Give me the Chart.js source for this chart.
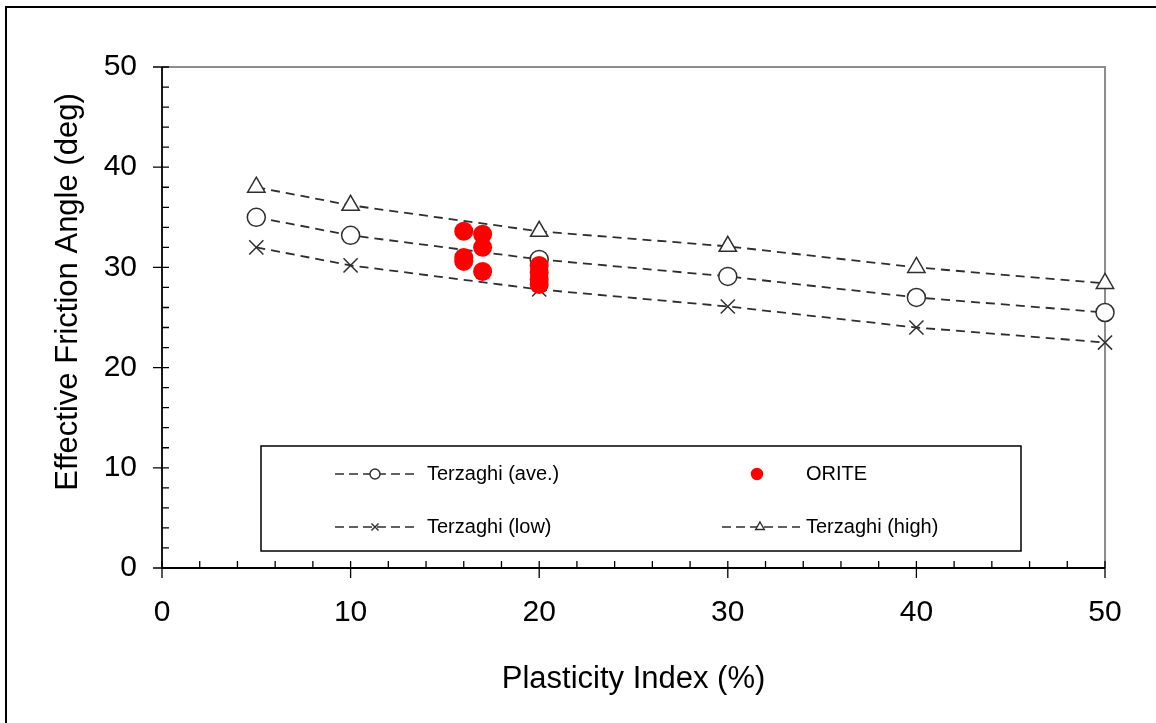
<!DOCTYPE html>
<html>
<head>
<meta charset="utf-8">
<script src="https://cdn.jsdelivr.net/npm/chart.js@4/dist/chart.umd.min.js"></script>
<style>
  html, body { margin: 0; padding: 0; background: #fff; }
  #wrap { position: relative; width: 1156px; height: 723px; }
  canvas { display: block; }
</style>
</head>
<body>
<div id="wrap"><canvas id="c" width="1156" height="723"></canvas></div>
<script>
// ---- data ----
const plasticityIndex = [5, 10, 20, 30, 40, 50];
const terzaghiAve  = [35.0, 33.2, 30.8, 29.1, 27.0, 25.5];
const terzaghiLow  = [32.0, 30.2, 27.8, 26.1, 24.0, 22.5];
const terzaghiHigh = [38.0, 36.2, 33.6, 32.1, 30.0, 28.4];
const oriteX = [16, 16, 16, 17, 17, 17, 20, 20, 20, 20];
const oriteY = [33.6, 31.0, 30.6, 33.3, 32.0, 29.6, 30.2, 29.5, 28.8, 28.3];
const xTicks = [0, 10, 20, 30, 40, 50];
const yTicks = [0, 10, 20, 30, 40, 50];
const seriesNames = ['Terzaghi (ave.)', 'ORITE', 'Terzaghi (low)', 'Terzaghi (high)'];
const xTitle = 'Plasticity Index (%)';
const yTitle = 'Effective Friction Angle (deg)';

const FONT = '"Liberation Sans", Arial, sans-serif';
const toXY = (xs, ys) => xs.map((x, i) => ({x: x, y: ys[i]}));

const lineStyle = {
  showLine: true,
  borderColor: '#2e2e2e',
  borderWidth: 1.8,
  borderDash: [9, 6],
  pointRadius: 9,
  pointHoverRadius: 9,
  pointBackgroundColor: '#ffffff',
  pointBorderColor: '#2e2e2e',
  pointBorderWidth: 1.5,
  fill: false,
  tension: 0,
  clip: false,
  order: 1
};

const datasets = [
  Object.assign({}, lineStyle, {label: seriesNames[0], data: toXY(plasticityIndex, terzaghiAve), pointStyle: 'circle'}),
  {label: seriesNames[1], data: toXY(oriteX, oriteY), showLine: false, pointStyle: 'circle', clip: false,
   pointRadius: 9.5, pointHoverRadius: 9.5, pointBackgroundColor: '#ff0000', pointBorderColor: '#ff0000',
   pointBorderWidth: 0, backgroundColor: '#ff0000', borderColor: '#ff0000', order: 0},
  Object.assign({}, lineStyle, {label: seriesNames[2], data: toXY(plasticityIndex, terzaghiLow), pointStyle: 'crossRot', pointRadius: 10, pointHoverRadius: 10}),
  Object.assign({}, lineStyle, {label: seriesNames[3], data: toXY(plasticityIndex, terzaghiHigh), pointStyle: 'triangle', pointRadius: 10, pointHoverRadius: 10})
];

// background + outer frame + y title
const framePlugin = {
  id: 'frame',
  beforeDraw(chart) {
    const ctx = chart.ctx;
    ctx.save();
    ctx.fillStyle = '#fff';
    ctx.fillRect(0, 0, chart.width, chart.height);
    ctx.strokeStyle = '#000';
    ctx.lineWidth = 2;
    ctx.beginPath();
    ctx.moveTo(6, chart.height + 2);
    ctx.lineTo(6, 7);
    ctx.lineTo(chart.width + 2, 7);
    ctx.stroke();
    // y axis title
    ctx.translate(68, 292);
    ctx.rotate(-Math.PI / 2);
    ctx.font = '31px ' + FONT;
    ctx.fillStyle = '#000';
    ctx.textAlign = 'center';
    ctx.textBaseline = 'middle';
    ctx.fillText(yTitle, 0, 0);
    ctx.restore();
  }
};

// axis lines, plot border and tick marks drawn from the scales
const axesPlugin = {
  id: 'axesTicks',
  beforeDatasetsDraw(chart) {
    const {ctx, chartArea: a, scales: {x, y}} = chart;
    ctx.save();
    ctx.strokeStyle = '#8c8c8c';
    ctx.lineWidth = 2;
    ctx.beginPath();
    ctx.moveTo(a.left, a.top);
    ctx.lineTo(a.right, a.top);
    ctx.lineTo(a.right, a.bottom);
    ctx.stroke();
    ctx.strokeStyle = '#000';
    ctx.lineWidth = 1.8;
    ctx.beginPath();
    ctx.moveTo(a.left, a.top);
    ctx.lineTo(a.left, a.bottom);
    ctx.lineTo(a.right, a.bottom);
    ctx.stroke();
    ctx.lineWidth = 1.3;
    ctx.beginPath();
    for (let v = 0; v <= 50; v += 2) {
      const major = v % 10 === 0;
      const px = x.getPixelForValue(v);
      ctx.moveTo(px, a.bottom - 7);
      ctx.lineTo(px, a.bottom + (major ? 10 : 0));
      const py = y.getPixelForValue(v);
      ctx.moveTo(a.left - (major ? 9 : 0), py);
      ctx.lineTo(a.left + 7, py);
    }
    ctx.stroke();
    ctx.restore();
  }
};

// legend box inside the plot
const legendPlugin = {
  id: 'boxLegend',
  afterDatasetsDraw(chart) {
    const ctx = chart.ctx;
    const box = {l: 261, t: 446, r: 1021, b: 551};
    ctx.save();
    ctx.fillStyle = '#fff';
    ctx.fillRect(box.l, box.t, box.r - box.l, box.b - box.t);
    ctx.strokeStyle = '#000';
    ctx.lineWidth = 1.5;
    ctx.strokeRect(box.l, box.t, box.r - box.l, box.b - box.t);
    const items = [
      {ds: 0, x1: 335, x2: 415, mx: 375, tx: 427, y: 474},
      {ds: 1, x1: null, x2: null, mx: 757, tx: 806, y: 474},
      {ds: 2, x1: 335, x2: 415, mx: 375, tx: 427, y: 527},
      {ds: 3, x1: 722, x2: 800, mx: 760, tx: 806, y: 527}
    ];
    ctx.font = '20px ' + FONT;
    ctx.textBaseline = 'middle';
    ctx.textAlign = 'left';
    items.forEach(it => {
      const d = chart.data.datasets[it.ds];
      if (it.x1 !== null) {
        ctx.strokeStyle = '#2e2e2e';
        ctx.lineWidth = 1.6;
        ctx.setLineDash([9, 5]);
        ctx.beginPath();
        ctx.moveTo(it.x1, it.y);
        ctx.lineTo(it.x2, it.y);
        ctx.stroke();
        ctx.setLineDash([]);
      }
      ctx.fillStyle = d.pointBackgroundColor;
      ctx.strokeStyle = d.pointBorderColor;
      ctx.lineWidth = it.ds === 1 ? 0 : 1.4;
      Chart.helpers.drawPoint(ctx, {pointStyle: d.pointStyle, radius: it.ds === 1 ? 5.5 : 5, rotation: 0, borderWidth: ctx.lineWidth}, it.mx, it.y);
      ctx.fillStyle = '#000';
      ctx.fillText(d.label, it.tx, it.y);
    });
    ctx.restore();
  }
};

new Chart(document.getElementById('c'), {
  type: 'scatter',
  data: {datasets: datasets},
  plugins: [framePlugin, axesPlugin, legendPlugin],
  options: {
    responsive: false,
    animation: false,
    events: [],
    layout: {padding: {left: 46, top: 67, right: 51, bottom: 21}},
    plugins: {legend: {display: false}, tooltip: {enabled: false}, title: {display: false}},
    scales: {
      x: {
        type: 'linear', min: 0, max: 50,
        afterFit(s) { s.height = 134; },
        afterBuildTicks(s) { s.ticks = xTicks.map(v => ({value: v})); },
        grid: {display: false, drawTicks: false},
        border: {display: false},
        ticks: {color: '#000', padding: 27, font: {family: FONT, size: 30}, maxRotation: 0},
        title: {display: true, text: xTitle, color: '#000', font: {family: FONT, size: 31}, padding: {top: 4, bottom: 4}}
      },
      y: {
        type: 'linear', min: 0, max: 50,
        afterFit(s) { s.width = 116; },
        afterBuildTicks(s) { s.ticks = yTicks.map(v => ({value: v})); },
        grid: {display: false, drawTicks: false},
        border: {display: false},
        ticks: {color: '#000', padding: 25, font: {family: FONT, size: 30}},
        title: {display: false}
      }
    }
  }
});
</script>
</body>
</html>
